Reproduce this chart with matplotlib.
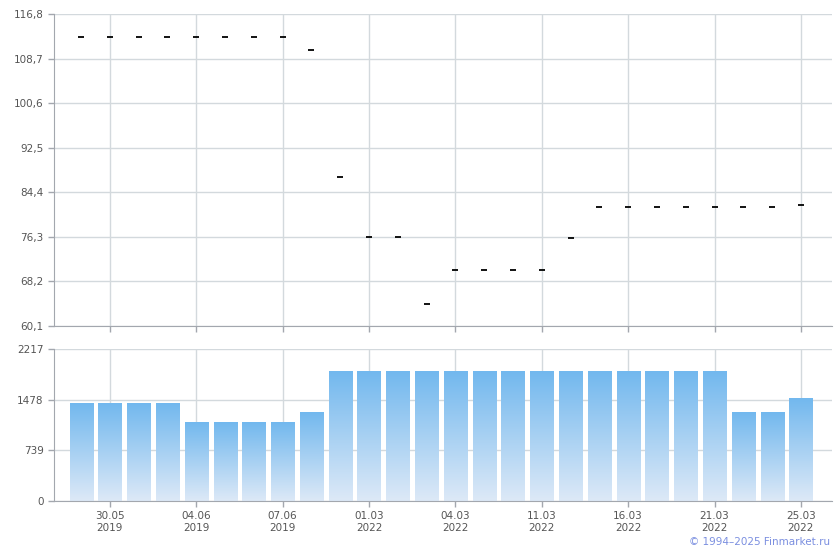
import numpy as np
import matplotlib
matplotlib.use('Agg')
import matplotlib.pyplot as plt
from matplotlib.patches import Rectangle

PRICES = [112.6, 112.6, 112.6, 112.6, 112.6, 112.6, 112.6, 112.6, 110.3, 87.2,
          76.3, 76.3, 64.1, 70.2, 70.2, 70.2, 70.2, 76.1, 81.7, 81.7,
          81.7, 81.7, 81.7, 81.7, 81.7, 82.0]
VOLUMES = [1429, 1429, 1429, 1429, 1152, 1152, 1152, 1152, 1298, 1896,
           1896, 1896, 1896, 1896, 1896, 1896, 1896, 1896, 1896, 1896,
           1896, 1896, 1896, 1298, 1298, 1502]
TICK_POS = [1, 4, 7, 10, 13, 16, 19, 22, 25]
TICK_LABELS = ['30.05\n2019', '04.06\n2019', '07.06\n2019', '01.03\n2022', '04.03\n2022',
               '11.03\n2022', '16.03\n2022', '21.03\n2022', '25.03\n2022']
PRICE_TICKS = [60.1, 68.2, 76.3, 84.4, 92.5, 100.6, 108.7, 116.8]
VOLUME_TICKS = [0, 739, 1478, 2217]

W, H = 840, 550
GRID_COLOR = '#d3d9dd'
AXIS_COLOR = '#a3a7ae'
TEXT_COLOR = '#555555'
BAR_TOP = '#72b8ee'
BAR_BOTTOM = '#dde9f7'
XLIM = (-0.94, 26.08)

plt.rcParams['font.family'] = ['DejaVu Sans']
plt.rcParams['font.size'] = 7.5

fig = plt.figure(figsize=(W / 100, H / 100), dpi=100)


def box(left, top, right, bottom):
    return [left / W, 1 - bottom / H, (right - left) / W, (bottom - top) / H]


def style_axes(ax):
    ax.set_xlim(*XLIM)
    for side in ['top', 'right']:
        ax.spines[side].set_visible(False)
    for side in ['left', 'bottom']:
        ax.spines[side].set_color(AXIS_COLOR)
    ax.tick_params(colors=AXIS_COLOR, labelcolor=TEXT_COLOR, length=4, width=1)
    ax.set_xticks(TICK_POS)
    ax.grid(True, color=GRID_COLOR, linewidth=1)
    ax.set_axisbelow(True)


ax1 = fig.add_axes(box(54, 14, 832, 326))
style_axes(ax1)
x = np.arange(len(PRICES))
ax1.plot(x, PRICES, linestyle='none', marker='_', color='black', markersize=3.8, markeredgewidth=1.3)
ax1.set_ylim(PRICE_TICKS[0], PRICE_TICKS[-1])
ax1.set_yticks(PRICE_TICKS)
ax1.set_yticklabels([f'{v:.1f}'.replace('.', ',') for v in PRICE_TICKS])
ax1.set_xticklabels([])

ax2 = fig.add_axes(box(54, 349, 832, 501))
style_axes(ax2)
ax2.set_ylim(VOLUME_TICKS[0], VOLUME_TICKS[-1])
ax2.set_yticks(VOLUME_TICKS)
ax2.set_yticklabels([str(v) for v in VOLUME_TICKS])
ax2.set_xticklabels(TICK_LABELS, linespacing=1.2)

# each bar gets its own top-to-bottom gradient
cmap = matplotlib.colors.LinearSegmentedColormap.from_list('bar', [BAR_BOTTOM, BAR_TOP])
grad = np.linspace(0, 1, 256).reshape(-1, 1)
bars = ax2.bar(x, VOLUMES, width=0.8, color='none', edgecolor='none')
for bar in bars:
    bx, by = bar.get_x(), bar.get_y()
    bw, bh = bar.get_width(), bar.get_height()
    img = ax2.imshow(grad, cmap=cmap, origin='lower', aspect='auto',
                     extent=[bx, bx + bw, by, by + bh], zorder=2)
    clip = Rectangle((bx, by), bw, bh, transform=ax2.transData)
    img.set_clip_path(clip)
ax2.set_xlim(*XLIM)
ax2.set_ylim(VOLUME_TICKS[0], VOLUME_TICKS[-1])

fig.text(830 / W, 1 - 542 / H, '\u00a9 1994\u20132025 Finmarket.ru', ha='right', va='center',
         color='#7b8fe0', fontsize=7.5)

fig.savefig('out.png', dpi=100)
